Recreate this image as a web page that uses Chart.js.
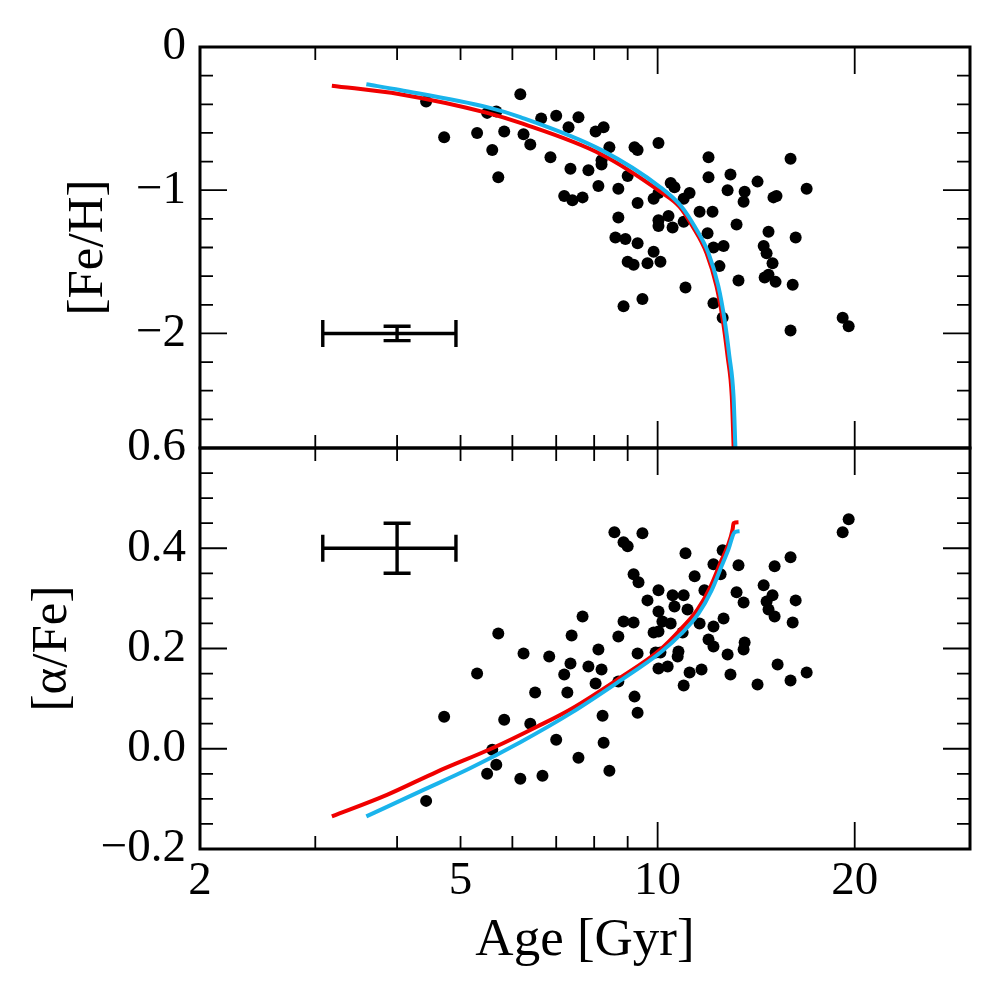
<!DOCTYPE html>
<html>
<head>
<meta charset="utf-8">
<script src="https://cdn.jsdelivr.net/npm/chart.js@4.4.1/dist/chart.umd.min.js"></script>
<style>
  html, body { margin: 0; padding: 0; background: #fff; }
</style>
</head>
<body>
<canvas id="c" width="1000" height="1000"></canvas>
<script>
// --- stars, top panel: age [Gyr] vs [Fe/H]
const feAge = [4.43, 6.17, 4.72, 5.30, 5.49, 5.67, 5.83, 5.59, 6.24, 6.39, 5.71, 6.64, 7.00, 7.57, 7.31,
  6.86, 7.36, 7.84, 8.04, 8.27, 8.44, 8.21, 8.21, 9.00, 8.12, 8.71, 7.20, 7.41, 7.68, 9.22,
  9.32, 10.03, 9.32, 9.86, 8.71, 8.62, 8.93, 9.32, 9.86, 9.00, 9.19, 9.65, 9.48, 8.87, 10.03,
  10.03, 10.10, 11.96, 15.96, 11.96, 12.92, 14.21, 16.89, 10.47, 10.61, 11.19, 10.96, 10.03, 12.79, 13.58,
  13.53, 15.03, 15.19, 11.59, 12.13, 10.39, 10.54, 10.96, 13.20, 14.77, 16.25, 11.92, 12.17, 12.61, 14.52,
  14.67, 14.98, 12.43, 13.29, 14.57, 14.77, 15.14, 16.08, 11.03, 12.17, 12.57, 15.96, 19.17, 19.58];
const feVal = [-0.38, -0.33, -0.63, -0.60, -0.46, -0.45, -0.59, -0.72, -0.61, -0.68, -0.91, -0.50, -0.48, -0.49, -0.56,
  -0.77, -0.85, -0.86, -0.59, -0.56, -0.70, -0.79, -0.82, -0.90, -0.97, -0.99, -1.04, -1.07, -1.05, -0.70,
  -0.72, -0.67, -1.09, -1.06, -1.19, -1.33, -1.34, -1.37, -1.43, -1.50, -1.52, -1.51, -1.76, -1.81, -1.21,
  -1.25, -1.50, -0.77, -0.78, -0.91, -0.89, -0.94, -0.99, -0.95, -0.98, -1.02, -1.06, -1.02, -1.00, -1.01,
  -1.08, -1.05, -1.04, -1.15, -1.15, -1.18, -1.26, -1.22, -1.24, -1.29, -1.33, -1.30, -1.40, -1.39, -1.39,
  -1.44, -1.51, -1.53, -1.63, -1.61, -1.59, -1.64, -1.66, -1.68, -1.79, -1.89, -1.98, -1.89, -1.95];

// --- stars, bottom panel: age [Gyr] vs [alpha/Fe]
const alAge = [8.59, 9.48, 8.87, 9.00, 9.19, 9.35, 10.03, 9.65, 10.03, 7.68, 8.87, 9.19, 5.71, 7.39, 8.71,
  9.86, 6.24, 6.83, 8.12, 9.32, 9.93, 7.36, 7.84, 8.21, 5.30, 7.20, 8.04, 8.71, 10.03, 6.50,
  7.28, 9.22, 4.72, 5.83, 8.24, 9.32, 6.39, 7.00, 8.27, 5.59, 5.67, 7.57, 5.49, 6.17, 6.67,
  8.44, 4.43, 19.58, 19.17, 11.03, 12.57, 15.96, 12.17, 13.29, 15.09, 12.48, 11.39, 14.52, 11.79, 13.20,
  14.98, 10.54, 10.96, 14.67, 16.25, 13.53, 10.61, 11.11, 14.77, 15.09, 10.17, 10.47, 12.61, 11.59, 12.17,
  16.08, 10.03, 10.92, 11.96, 12.17, 13.58, 13.53, 10.10, 10.76, 10.73, 12.79, 10.36, 11.19, 11.67, 12.92,
  15.25, 16.89, 10.96, 14.21, 15.96];
const alVal = [0.432, 0.430, 0.412, 0.404, 0.348, 0.332, 0.316, 0.296, 0.274, 0.264, 0.254, 0.252, 0.230, 0.226, 0.224,
  0.232, 0.190, 0.184, 0.198, 0.190, 0.192, 0.170, 0.164, 0.158, 0.150, 0.148, 0.130, 0.134, 0.160, 0.112,
  0.112, 0.104, 0.064, 0.058, 0.066, 0.072, 0.050, 0.018, 0.012, -0.002, -0.032, -0.018, -0.050, -0.060, -0.054,
  -0.044, -0.104, 0.458, 0.432, 0.390, 0.396, 0.382, 0.368, 0.366, 0.364, 0.348, 0.344, 0.326, 0.316, 0.312,
  0.306, 0.306, 0.306, 0.294, 0.296, 0.292, 0.284, 0.278, 0.278, 0.264, 0.254, 0.250, 0.260, 0.250, 0.244,
  0.252, 0.234, 0.232, 0.218, 0.204, 0.212, 0.198, 0.192, 0.194, 0.184, 0.188, 0.164, 0.152, 0.158, 0.148,
  0.168, 0.152, 0.126, 0.128, 0.136];

// --- model tracks
const redFeAge  = [3.18, 4.04, 5.49, 6.17, 8.21, 10.10, 10.80, 11.30, 11.88, 12.30, 12.57, 12.79, 12.98, 13.07];
const redFeVal  = [-0.27, -0.33, -0.46, -0.53, -0.75, -1.01, -1.115, -1.25, -1.44, -1.67, -1.90, -2.16, -2.44, -2.82];
const cyanFeAge = [3.59, 4.04, 5.49, 6.17, 8.21, 10.10, 10.88, 11.38, 11.96, 12.38, 12.65, 12.87, 13.06, 13.15];
const cyanFeVal = [-0.26, -0.30, -0.42, -0.49, -0.72, -0.98, -1.115, -1.25, -1.44, -1.67, -1.90, -2.16, -2.44, -2.82];

const redAlAge  = [3.18, 3.86, 4.60, 5.61, 6.54, 7.39, 8.68, 10.10, 10.84, 11.51, 12.05, 12.48, 12.79, 13.02, 13.06, 13.29];
const redAlVal  = [-0.135, -0.092, -0.046, 0.002, 0.044, 0.080, 0.138, 0.198, 0.238, 0.278, 0.324, 0.372, 0.404, 0.438, 0.450, 0.452];
const cyanAlAge = [3.59, 4.34, 5.17, 6.17, 7.39, 8.68, 10.10, 10.88, 11.55, 12.09, 12.52, 12.83, 13.11, 13.34];
const cyanAlVal = [-0.135, -0.085, -0.039, 0.013, 0.072, 0.132, 0.192, 0.230, 0.270, 0.316, 0.364, 0.398, 0.432, 0.434];

// --- typical error bars
const errAxis  = ['yf', 'ya'];
const errAge   = [4.0, 4.0];
const errAgeLo = [3.08, 3.08];
const errAgeHi = [4.92, 4.92];
const errVal   = [-2.0, 0.4];
const errValLo = [-2.05, 0.35];
const errValHi = [-1.95, 0.45];

// --- ticks
const xLabels   = [2, 5, 10, 20];
const xMajor    = [10, 20];
const xMinor    = [3, 4, 5, 6, 7, 8, 9];
const feLabels  = [0, -1, -2];
const feMinor   = [-0.2, -0.4, -0.6, -0.8, -1.2, -1.4, -1.6, -1.8, -2.2, -2.4, -2.6];
const alLabels  = [0.6, 0.4, 0.2, 0.0, -0.2];
const alMinor   = [0.55, 0.5, 0.45, 0.35, 0.3, 0.25, 0.15, 0.1, 0.05, -0.05, -0.1, -0.15];

const FONT = 'Liberation Serif';
const MINUS = '\u2212';
const RED = '#f00000';
const CYAN = '#1ab4ec';

const pairs = (xs, ys) => xs.map((x, i) => ({ x, y: ys[i] }));

const fmtFe = v => v === 0 ? '0' : (v < 0 ? MINUS : '') + Math.abs(v);
const fmtAl = v => (v < -1e-9 ? MINUS : '') + Math.abs(v).toFixed(1);

// frame, inward ticks on every side, error bars
const framePlugin = {
  id: 'frameTicks',
  afterDraw(chart) {
    const ctx = chart.ctx;
    const x = chart.scales.x;
    ctx.save();
    ctx.strokeStyle = '#000';
    ctx.lineCap = 'butt';

    // error bars
    ctx.lineWidth = 3.4;
    errAxis.forEach((id, i) => {
      const ys = chart.scales[id];
      const px = x.getPixelForValue(errAge[i]), py = ys.getPixelForValue(errVal[i]);
      const x0 = x.getPixelForValue(errAgeLo[i]), x1 = x.getPixelForValue(errAgeHi[i]);
      const y0 = ys.getPixelForValue(errValLo[i]), y1 = ys.getPixelForValue(errValHi[i]);
      const c = 13.5;
      ctx.beginPath();
      ctx.moveTo(x0, py); ctx.lineTo(x1, py);
      ctx.moveTo(x0, py - c); ctx.lineTo(x0, py + c);
      ctx.moveTo(x1, py - c); ctx.lineTo(x1, py + c);
      ctx.moveTo(px, y0); ctx.lineTo(px, y1);
      ctx.moveTo(px - c, y0); ctx.lineTo(px + c, y0);
      ctx.moveTo(px - c, y1); ctx.lineTo(px + c, y1);
      ctx.stroke();
    });

    const panels = [
      [chart.scales.yf, feLabels, feMinor],
      [chart.scales.ya, alLabels, alMinor]
    ];
    ctx.lineWidth = 1.8;
    panels.forEach(([ys, major, minor]) => {
      const l = x.left, r = x.right, t = ys.top, b = ys.bottom;
      ctx.beginPath();
      const yt = (v, len) => {
        const p = ys.getPixelForValue(v);
        ctx.moveTo(l, p); ctx.lineTo(l + len, p);
        ctx.moveTo(r, p); ctx.lineTo(r - len, p);
      };
      const xt = (v, len) => {
        const p = x.getPixelForValue(v);
        ctx.moveTo(p, t); ctx.lineTo(p, t + len);
        ctx.moveTo(p, b); ctx.lineTo(p, b - len);
      };
      major.forEach(v => yt(v, 27));
      minor.forEach(v => yt(v, 13));
      xMajor.forEach(v => xt(v, 27));
      xMinor.forEach(v => xt(v, 13));
      ctx.stroke();
    });

    ctx.lineWidth = 3;
    panels.forEach(([ys]) => {
      ctx.strokeRect(x.left, ys.top, x.right - x.left, ys.bottom - ys.top);
    });
    ctx.restore();
  }
};

const lineSet = (xs, ys, axis, color, order) => ({
  data: pairs(xs, ys), yAxisID: axis, showLine: true,
  borderColor: color, borderWidth: 4, pointRadius: 0,
  cubicInterpolationMode: 'monotone', order
});
const starSet = (xs, ys, axis) => ({
  data: pairs(xs, ys), yAxisID: axis,
  pointRadius: 6, pointHoverRadius: 6,
  backgroundColor: '#000', borderWidth: 0, order: 3
});

const yAxis = (min, max, labels, fmt, title, titlePad) => ({
  type: 'linear', position: 'left', stack: 'panels', stackWeight: 1,
  min, max,
  grid: { display: false, drawTicks: false },
  border: { display: false },
  afterBuildTicks: s => { s.ticks = labels.map(v => ({ value: v })); },
  afterFit: s => { s.width = 200; },
  ticks: { color: '#000', padding: 14, font: { family: FONT, size: 47 }, callback: fmt },
  title: { display: true, text: title, color: '#000', padding: { top: titlePad }, font: { family: FONT, size: 51 } }
});

new Chart(document.getElementById('c'), {
  type: 'scatter',
  data: {
    datasets: [
      lineSet(cyanFeAge, cyanFeVal, 'yf', CYAN, 1),
      lineSet(redFeAge, redFeVal, 'yf', RED, 2),
      lineSet(cyanAlAge, cyanAlVal, 'ya', CYAN, 1),
      lineSet(redAlAge, redAlVal, 'ya', RED, 2),
      starSet(feAge, feVal, 'yf'),
      starSet(alAge, alVal, 'ya')
    ]
  },
  options: {
    responsive: false,
    animation: false,
    layout: { padding: { top: 47, right: 30, left: 0, bottom: 0 } },
    plugins: { legend: { display: false }, tooltip: { enabled: false } },
    scales: {
      x: {
        type: 'logarithmic', position: 'bottom', min: 2, max: 30,
        grid: { display: false, drawTicks: false },
        border: { display: false },
        afterBuildTicks: s => { s.ticks = xLabels.map(v => ({ value: v })); },
        afterFit: s => { s.height = 151; },
        ticks: { color: '#000', padding: 4, maxRotation: 0, font: { family: FONT, size: 47 }, callback: v => String(v) },
        title: { display: true, text: 'Age [Gyr]', color: '#000', padding: { bottom: 27 }, font: { family: FONT, size: 53 } }
      },
      ya: yAxis(-0.2, 0.6, alLabels, fmtAl, '[\u03b1/Fe]', 22),
      yf: yAxis(-2.8, 0, feLabels, fmtFe, '[Fe/H]', 58)
    }
  },
  plugins: [framePlugin]
});
</script>
</body>
</html>
